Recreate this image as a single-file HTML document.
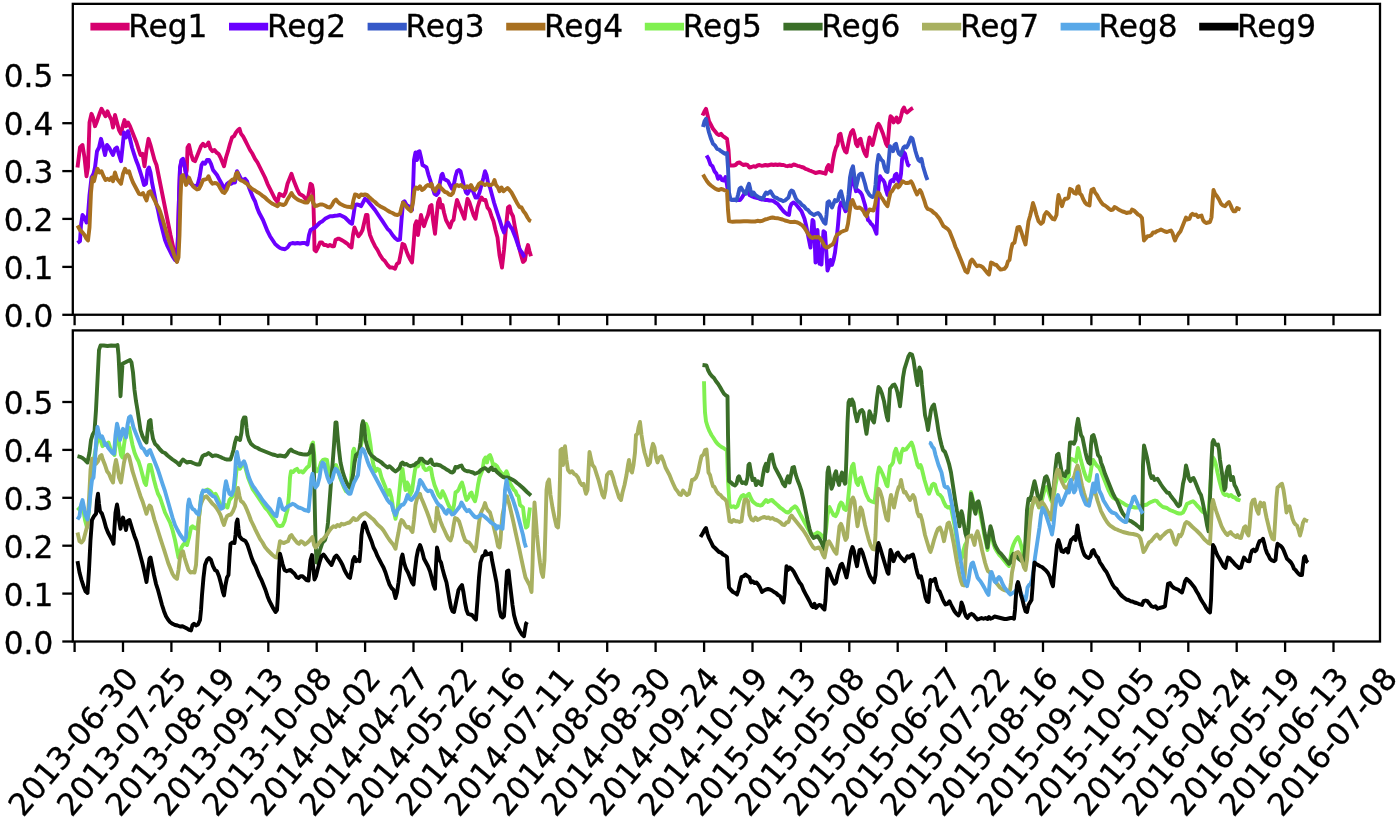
<!DOCTYPE html>
<html><head><meta charset="utf-8"><title>Reg chart</title>
<style>
html,body{margin:0;padding:0;background:#fff;overflow:hidden;}
svg{display:block;font-family:"DejaVu Sans","Liberation Sans",sans-serif;}
.ln{fill:none;stroke-width:3.9;stroke-linejoin:round;stroke-linecap:butt;}
.ax{fill:none;stroke:#000;stroke-width:2.3;}
.tk{stroke:#000;stroke-width:2.3;}
text{fill:#000;font-size:31.2px;stroke:#000;stroke-width:0.35px;}
</style></head><body>
<svg width="1400" height="821" viewBox="0 0 1400 821">
<rect width="1400" height="821" fill="#fff"/>
<polyline class="ln" stroke="#d6006e" points="77.5,167.5 80.0,147.5 82.5,145.0 84.5,157.5 86.5,176.2 88.0,167.5 89.5,122.5 91.5,113.8 93.0,117.5 95.0,126.2 97.0,121.2 99.5,113.8 101.5,108.8 103.5,112.5 105.5,116.2 107.5,111.2 109.5,116.2 111.5,120.0 113.0,127.5 115.0,115.0 117.0,122.5 119.0,130.0 121.0,133.8 123.0,125.0 124.5,120.0 126.0,126.2 128.0,122.5 130.0,126.2 132.5,132.5 134.5,137.5 136.5,142.5 138.5,148.8 140.5,155.0 142.5,153.8 144.5,166.2 146.5,150.0 148.5,138.8 150.5,145.0 152.5,152.5 154.5,160.0 156.5,165.0 158.5,175.0 160.5,185.0 163.0,197.5 165.5,210.0 168.0,222.5 170.5,235.0 173.0,246.2 175.0,255.0 177.0,261.2 178.0,235.0 179.0,197.5 180.0,168.8 181.5,161.2 183.0,160.0 184.5,165.5 186.0,174.2 186.8,170.0 187.5,147.5 189.0,145.0 191.0,153.8 193.0,160.0 195.0,161.2 197.0,156.2 199.0,151.2 201.0,146.2 203.0,143.8 205.0,146.2 207.0,145.0 208.5,142.5 210.5,148.8 212.5,151.2 214.5,150.0 216.5,152.5 218.5,153.8 220.5,157.5 222.5,162.5 224.0,166.2 226.0,157.5 228.0,151.2 230.0,143.8 232.0,137.5 234.0,136.2 236.0,132.5 238.0,130.0 239.5,128.8 241.0,133.8 243.0,136.2 245.0,140.0 247.5,145.0 250.0,150.0 252.5,153.8 255.0,158.8 257.5,162.5 260.0,167.5 262.5,172.5 265.0,177.5 267.5,183.8 270.0,188.8 272.5,193.8 275.0,198.8 277.5,202.0 279.5,193.8 281.5,195.0 283.5,196.2 285.5,192.5 287.5,183.8 289.5,178.8 291.5,173.8 293.5,180.0 295.5,185.0 297.5,190.0 299.5,193.8 301.5,195.0 303.5,196.2 305.5,198.8 307.5,200.0 309.0,192.5 310.5,183.8 312.0,185.0 313.0,190.0 314.0,222.5 314.5,250.0 316.0,251.2 318.0,247.5 320.0,242.5 322.0,242.5 324.0,245.0 326.0,245.0 328.0,246.2 330.0,245.0 332.0,246.2 334.0,246.2 335.5,240.0 337.5,238.8 339.5,238.8 341.5,240.0 343.5,241.2 345.5,242.5 347.5,243.8 349.5,246.2 351.5,247.5 353.0,235.0 354.5,227.5 356.5,232.5 358.5,236.2 360.5,233.8 362.5,230.0 364.5,221.2 366.0,215.0 367.5,215.0 368.5,227.5 370.0,235.0 372.5,241.2 375.0,246.2 377.5,250.0 380.0,255.0 382.5,258.8 385.0,261.2 387.5,265.0 390.0,267.5 392.5,267.5 395.0,268.8 397.0,263.8 399.0,262.5 401.0,252.5 402.5,243.8 404.5,245.0 406.5,251.2 408.5,256.2 410.5,260.0 412.0,262.5 413.5,245.0 415.0,225.0 416.5,221.2 418.0,235.0 419.5,225.0 421.0,215.0 422.5,221.2 424.0,226.2 426.0,220.0 428.0,215.0 430.0,206.2 431.5,205.0 433.0,220.0 435.0,233.8 436.5,217.5 438.0,202.5 439.5,198.8 441.0,207.5 442.5,205.0 444.0,212.5 446.0,220.0 448.0,223.8 450.0,227.5 452.0,221.2 453.5,220.0 455.0,210.0 457.0,200.0 459.0,205.0 461.0,210.0 463.0,215.0 464.5,218.8 466.0,207.5 467.5,198.8 469.5,202.5 471.5,208.8 473.5,215.0 475.5,218.8 477.5,207.5 479.5,201.2 481.5,197.5 483.5,200.0 485.5,200.0 487.5,207.5 489.5,210.0 491.5,216.2 493.5,221.2 495.5,230.0 497.5,237.5 499.5,255.0 502.0,267.5 504.0,250.0 506.0,227.5 508.0,207.5 509.5,206.2 511.0,212.5 513.0,216.2 515.0,227.5 517.0,237.5 519.0,247.5 521.0,255.0 523.0,262.0 525.0,260.0 526.5,250.0 528.0,245.0 529.5,251.2 531.0,256.2"/>
<polyline class="ln" stroke="#6a00ff" points="77.5,243.0 80.0,241.2 81.0,225.0 82.5,215.0 84.5,217.5 86.5,222.5 88.0,215.0 89.5,195.0 91.5,177.5 93.5,173.8 95.0,167.5 97.0,151.2 99.0,147.5 101.0,138.8 103.0,146.2 105.0,155.0 107.0,145.0 109.0,147.5 111.0,151.2 113.0,155.0 115.0,148.8 117.0,147.5 119.0,155.0 121.0,161.2 122.5,147.5 124.0,132.5 126.0,137.5 128.0,131.2 130.0,138.8 132.0,147.5 134.0,153.8 136.0,160.0 138.0,165.0 140.0,171.2 142.0,177.5 144.0,185.0 146.0,183.8 147.5,170.0 149.0,167.5 150.5,172.5 152.0,182.5 154.0,192.5 156.0,202.5 158.0,210.0 160.0,220.0 162.5,230.0 165.0,240.0 167.5,246.2 170.0,251.2 172.5,256.2 175.0,260.0 177.0,261.2 178.0,235.0 179.0,197.5 180.0,167.5 181.5,160.0 183.0,158.8 184.5,165.0 186.0,173.8 188.0,180.0 190.0,182.5 192.5,185.0 195.0,186.2 197.5,185.0 199.5,177.5 201.5,165.0 203.0,162.5 205.0,163.8 207.0,160.0 209.0,160.0 211.0,163.8 213.0,170.0 215.0,172.5 217.0,175.0 219.0,178.8 221.0,182.5 223.0,186.2 225.0,188.8 227.0,183.8 229.0,182.5 231.0,183.8 233.0,182.5 235.0,182.5 237.0,171.2 239.0,175.0 241.0,178.8 243.0,180.0 245.0,178.8 247.0,181.2 249.0,187.5 251.0,192.5 253.0,197.5 255.0,201.2 257.0,207.5 259.0,212.5 261.0,216.2 263.0,220.0 265.0,225.0 267.5,231.2 270.0,236.2 272.5,240.0 275.0,243.8 277.5,246.2 280.0,248.0 282.5,248.8 285.0,249.2 287.5,247.5 290.0,243.8 292.5,243.0 295.0,243.5 297.5,243.0 300.0,243.5 302.5,243.0 305.0,243.0 307.5,244.5 309.0,235.0 310.5,230.0 312.5,228.8 315.0,227.5 317.5,225.0 320.0,222.5 322.5,221.2 325.0,218.8 327.5,217.5 330.0,216.2 332.5,216.2 335.0,215.8 337.5,215.5 340.0,215.0 342.5,216.2 345.0,217.5 347.5,220.0 350.0,222.5 352.0,223.8 353.5,215.0 355.0,205.0 357.0,204.5 359.0,205.0 361.0,206.2 363.0,202.5 365.0,198.8 367.0,200.0 369.0,202.5 371.0,205.0 373.0,207.5 375.0,210.0 377.5,213.8 380.0,217.5 382.5,221.2 385.0,225.0 387.5,228.8 390.0,231.2 392.5,235.0 395.0,238.0 397.5,240.0 400.0,239.5 401.5,220.0 403.0,202.5 404.5,201.2 406.5,205.0 408.5,206.2 410.5,207.5 412.0,210.0 413.0,190.0 414.0,160.0 415.5,152.5 417.0,160.0 418.0,152.0 419.5,151.2 421.0,157.5 422.5,165.0 424.5,166.2 426.5,167.5 428.5,175.0 430.5,181.2 432.5,187.5 434.5,193.8 436.5,195.0 438.5,192.5 440.0,182.5 441.5,175.0 442.5,173.8 444.0,178.8 446.0,180.0 448.0,181.2 450.0,185.0 452.0,188.8 454.0,183.8 455.5,176.2 457.0,171.2 459.0,170.0 460.5,171.2 462.0,177.5 464.0,186.2 466.0,192.5 467.5,193.8 469.5,190.0 471.5,187.5 473.5,192.5 475.5,197.5 477.5,197.5 479.5,192.5 481.5,185.0 483.5,177.5 485.0,171.2 486.5,175.0 488.0,182.5 490.0,187.5 492.0,195.0 494.0,202.5 496.0,208.8 498.0,215.0 500.0,221.2 502.0,227.5 504.0,232.5 506.0,226.2 508.0,222.5 510.0,226.2 512.0,228.8 514.0,233.8 516.0,238.8 518.0,245.0 520.0,250.0 522.0,252.5 524.0,256.2 525.0,257.0"/>
<polyline class="ln" stroke="#d6006e" points="702.5,115.5 704.5,111.2 706.0,108.8 707.5,115.0 709.0,121.2 711.0,125.0 713.0,128.8 715.0,131.2 717.0,133.8 719.0,135.0 721.0,133.8 723.0,136.2 725.0,137.5 727.0,138.8 728.5,150.0 729.5,165.5 731.5,165.5 733.5,165.5 735.5,165.0 737.5,163.0 739.5,162.5 741.5,163.8 743.5,165.0 745.5,164.5 747.5,165.0 749.5,167.5 751.5,167.0 753.5,166.2 755.5,166.8 757.5,165.5 759.5,165.0 761.5,165.8 763.5,165.5 765.5,165.0 767.5,165.5 769.5,165.0 771.5,164.5 773.5,165.0 775.5,164.5 777.5,165.0 779.5,164.5 781.5,165.0 783.5,165.0 785.5,165.8 787.5,166.2 789.5,165.5 791.5,166.0 793.5,164.5 795.5,165.0 797.5,165.8 799.5,166.2 801.5,167.0 803.5,167.5 805.5,168.8 807.5,169.5 809.5,170.5 811.5,171.2 813.5,172.0 815.5,173.0 817.5,172.5 819.5,172.0 821.5,172.5 823.5,173.0 825.5,173.8 827.0,167.5 828.5,165.0 830.0,170.0 831.5,171.2 833.0,160.0 834.5,152.5 836.0,147.5 837.5,145.0 839.0,135.0 840.5,133.8 842.0,141.2 843.5,147.5 845.0,151.2 846.5,152.5 848.0,145.0 849.5,137.5 851.0,132.5 853.0,130.0 854.5,135.0 856.0,143.8 857.5,146.2 859.0,140.0 860.5,138.8 862.0,145.0 863.5,150.0 865.0,153.8 866.5,156.2 868.0,145.0 869.5,137.5 871.0,141.2 872.5,145.0 874.0,138.8 875.5,132.5 877.0,126.2 878.5,123.8 880.0,126.2 881.5,130.0 883.0,133.8 884.5,138.8 886.0,143.8 887.5,146.2 888.5,135.0 889.5,122.5 890.5,116.2 892.0,117.5 893.5,122.5 895.0,120.0 896.5,117.5 898.0,122.5 899.5,121.2 901.0,116.2 902.5,110.0 904.0,107.5 905.5,111.2 907.0,112.5 908.5,111.2 910.0,110.0 911.5,108.8 913.0,108.0"/>
<polyline class="ln" stroke="#6a00ff" points="706.5,155.5 708.5,158.8 710.5,164.5 712.5,166.2 714.5,171.2 716.5,173.8 718.0,178.8 720.0,176.2 722.0,180.0 724.0,180.5 725.5,177.0 727.0,185.0 728.5,195.0 730.0,198.8 732.5,200.0 735.0,200.0 737.5,200.0 740.0,200.0 742.0,197.5 743.5,195.0 745.5,192.5 747.5,191.2 749.5,195.0 751.5,196.2 753.5,197.0 755.5,197.5 757.5,198.0 759.5,198.8 761.5,199.5 763.5,199.5 765.5,200.0 767.5,200.0 769.5,200.5 771.5,200.5 773.5,201.2 775.5,202.5 777.5,203.8 779.5,206.2 781.5,208.8 783.5,211.2 785.5,213.0 787.5,214.5 789.0,215.0 790.0,207.5 791.5,203.8 793.5,202.5 795.5,203.8 797.5,206.2 799.5,208.8 801.5,211.2 803.0,215.0 804.5,218.8 806.0,225.0 807.5,232.5 809.0,240.0 810.5,247.5 811.5,232.5 812.5,220.0 813.5,221.2 814.5,235.0 815.5,262.5 816.5,247.5 817.5,230.0 818.5,250.0 819.5,263.8 820.5,260.0 821.5,264.5 822.5,245.0 823.5,231.2 825.0,232.5 826.5,255.0 827.5,270.5 829.0,266.2 830.5,260.0 832.0,265.0 833.5,260.0 835.0,252.5 836.5,240.0 838.0,225.0 839.5,207.5 841.0,202.5 842.5,203.8 844.0,207.5 845.5,211.2 847.0,210.0 848.5,202.5 850.0,190.0 851.5,180.0 853.0,177.5 854.5,185.0 856.0,191.2 857.5,190.0 859.0,191.2 860.5,192.5 862.0,195.0 863.5,200.0 865.0,205.0 866.5,212.5 868.0,220.0 869.5,221.2 871.0,223.8 872.5,225.0 874.0,227.5 875.5,231.2 876.5,233.8 877.5,210.0 878.5,185.0 880.0,176.2 881.5,178.8 883.0,180.0 884.5,182.5 886.0,190.0 887.5,195.0 889.0,187.5 890.5,181.2 892.0,180.0 893.5,181.2 895.0,175.0 896.5,173.8 898.0,180.0 899.5,182.5 901.0,173.8 902.0,160.0 903.5,152.0 905.0,153.8 906.5,160.0 908.0,165.0 910.0,166.2"/>
<polyline class="ln" stroke="#3558c8" points="703.0,127.0 704.5,121.2 706.0,118.8 707.5,126.2 709.0,132.5 711.0,138.8 713.0,143.8 715.0,145.5 717.0,148.8 719.0,149.5 721.0,151.2 723.0,152.5 725.0,153.8 727.0,153.0 728.0,167.5 729.0,192.5 730.5,199.5 732.5,200.0 734.5,199.5 736.5,200.5 738.0,195.0 739.5,188.8 741.0,187.5 742.5,190.0 744.5,192.5 746.0,193.8 747.5,187.5 749.0,183.8 750.5,190.0 752.0,195.0 753.5,192.5 755.0,194.5 757.0,196.2 759.0,197.5 761.0,198.0 763.0,198.8 764.5,195.0 766.0,192.5 767.5,193.8 769.0,192.5 770.5,191.2 772.0,193.8 773.5,196.2 775.0,197.5 777.0,198.0 779.0,199.5 781.0,200.0 783.0,201.2 785.0,200.5 787.0,198.8 788.5,197.5 790.0,192.5 791.5,190.5 793.0,191.2 794.5,195.0 796.0,198.8 798.0,201.2 800.0,202.5 802.0,205.0 804.0,206.2 806.0,208.8 808.0,210.0 810.0,212.5 812.0,213.8 814.0,215.0 816.0,213.8 818.0,213.0 820.0,215.0 822.0,218.8 824.0,222.5 825.5,223.8 826.5,215.0 827.5,202.5 829.0,201.2 830.5,205.0 832.0,207.5 833.5,203.8 835.0,200.0 836.5,201.2 838.0,200.0 839.5,193.8 841.0,191.2 842.5,197.5 844.0,203.8 845.5,207.5 847.0,208.8 848.5,195.0 850.0,177.5 851.5,170.0 853.0,166.2 854.5,177.5 856.0,187.5 857.5,181.2 859.0,175.0 860.5,173.8 862.0,173.8 863.5,178.8 865.0,183.8 866.5,190.0 868.0,192.5 869.5,195.0 871.0,196.2 872.5,197.0 874.0,196.2 875.5,185.0 877.0,165.0 878.5,155.0 880.0,157.5 881.5,160.0 883.0,161.2 884.5,167.5 886.0,171.2 887.5,172.0 889.0,157.5 890.0,146.2 891.5,148.8 893.0,151.2 894.5,145.0 896.0,143.8 897.5,150.0 899.0,153.8 900.5,155.0 902.0,151.2 903.5,147.5 905.0,146.2 906.5,147.5 908.0,145.0 909.5,141.2 911.0,137.5 912.5,138.8 914.0,145.0 915.5,151.2 917.0,156.2 918.5,160.0 920.0,161.2 921.5,158.8 923.0,166.2 924.5,171.2 926.0,176.2 927.5,180.0"/>
<polyline class="ln" stroke="#a87020" points="77.5,225.5 80.0,230.0 82.5,232.5 84.5,235.0 86.5,238.8 88.0,240.5 89.5,227.5 91.0,192.5 92.5,177.5 94.0,181.2 95.5,175.0 97.5,168.8 99.5,172.5 101.5,171.2 103.5,176.2 105.5,180.0 107.5,178.8 109.5,180.0 111.5,177.5 113.0,181.2 115.0,172.5 117.0,178.8 119.0,181.2 121.0,183.8 123.0,173.8 125.0,168.8 127.0,172.5 129.0,171.2 131.0,177.5 133.0,182.5 135.0,186.2 137.0,190.0 139.0,193.8 141.0,194.5 143.0,193.0 144.5,196.2 146.5,200.5 148.5,192.5 150.5,191.2 152.5,196.2 154.5,200.0 156.5,204.5 158.5,207.5 160.5,212.5 162.5,218.8 165.0,227.5 167.5,236.2 170.0,243.8 172.5,250.0 175.0,257.5 177.0,262.0 178.5,257.5 179.5,235.0 180.5,197.5 181.5,176.2 183.0,175.0 184.5,180.0 186.0,185.0 187.5,182.5 189.0,177.5 191.0,182.5 193.0,186.2 195.0,188.0 197.0,189.5 199.0,188.8 201.0,185.0 203.0,180.0 205.0,179.5 207.0,178.8 208.5,176.2 210.5,181.2 212.5,183.8 214.5,183.0 216.5,183.2 218.5,185.0 220.5,188.8 222.5,192.0 224.5,193.0 226.5,190.0 228.5,185.0 230.5,181.2 232.5,179.5 234.5,180.0 236.0,173.8 237.5,172.5 239.0,178.8 241.0,180.5 243.0,181.2 245.0,182.5 247.0,183.8 249.0,186.2 251.0,188.0 253.0,189.5 255.0,190.5 257.0,192.0 259.0,193.0 261.0,194.5 263.0,196.2 265.0,197.5 267.5,200.0 270.0,202.0 272.5,203.8 275.0,205.0 277.5,206.2 279.5,203.8 281.5,204.5 283.5,205.0 285.5,203.8 287.5,199.5 289.5,196.2 291.5,193.0 293.5,196.2 295.5,198.0 297.5,199.5 299.5,200.5 301.5,201.2 303.5,202.0 305.5,202.5 307.5,202.5 309.5,198.8 311.5,196.2 313.0,202.5 315.0,206.2 317.5,205.5 320.0,204.5 322.5,204.5 325.0,205.5 327.5,207.0 330.0,207.5 332.0,205.0 334.0,201.2 336.0,199.5 338.0,202.0 340.0,203.8 342.5,205.0 345.0,206.2 347.5,206.8 350.0,207.0 352.0,207.5 353.5,200.0 355.0,194.5 357.0,195.0 359.0,197.0 361.0,194.5 363.0,195.0 365.0,194.5 367.0,195.0 369.0,197.0 371.0,198.8 373.0,200.5 375.0,202.0 377.5,204.5 380.0,206.2 382.5,207.5 385.0,208.8 387.5,210.5 390.0,212.0 392.5,213.0 395.0,214.5 397.5,215.0 400.0,213.8 401.5,207.5 403.0,202.5 405.0,205.0 407.0,207.5 409.0,209.5 411.0,211.2 413.0,202.5 414.5,190.0 416.0,187.5 418.0,188.8 420.0,186.2 422.0,190.0 424.0,188.8 426.0,186.2 428.0,185.0 430.0,186.2 431.5,183.8 433.0,188.8 435.0,191.2 437.0,187.5 439.0,185.0 441.0,188.0 443.0,190.0 445.0,192.0 447.0,192.5 449.0,194.5 451.0,195.0 453.0,193.0 455.0,186.2 457.0,185.0 459.0,186.2 461.0,185.0 463.0,187.0 465.0,188.0 467.0,186.2 469.0,187.5 471.0,185.0 473.0,188.8 475.0,190.0 477.0,187.5 479.0,183.8 481.0,182.5 483.0,183.8 485.0,185.0 487.0,183.8 489.0,185.0 491.0,185.0 493.0,183.8 494.5,180.0 496.0,185.0 498.0,187.5 499.5,191.2 501.5,187.5 503.5,191.2 505.5,189.5 507.5,188.0 509.5,190.0 511.5,192.5 513.5,196.2 515.5,200.0 517.5,203.8 519.5,207.0 521.5,207.5 523.5,211.2 525.5,213.8 527.5,217.5 529.5,220.5 531.0,221.2"/>
<polyline class="ln" stroke="#a87020" points="703.0,174.5 705.0,178.0 707.0,181.2 709.0,183.8 711.0,185.5 713.0,187.0 715.0,188.5 717.0,189.5 719.0,190.0 721.0,189.0 723.0,189.5 725.0,190.5 727.0,191.2 728.0,210.0 729.0,221.2 732.5,221.8 736.2,221.5 740.0,221.5 743.8,221.2 747.5,221.2 751.2,221.5 755.0,221.5 757.5,220.8 760.0,221.2 762.5,220.8 765.0,219.5 767.5,218.8 770.0,218.0 772.5,217.5 775.0,218.0 777.5,218.2 780.0,218.8 782.5,219.5 785.0,220.5 787.5,221.2 790.0,222.0 792.5,222.0 795.0,221.8 797.5,222.5 800.0,223.8 802.5,225.5 804.5,228.0 806.5,231.2 808.5,234.5 810.5,237.0 812.5,238.0 814.5,237.0 816.5,237.5 818.5,237.0 820.5,238.8 822.5,242.0 824.5,246.2 826.5,247.5 828.5,247.0 830.5,245.5 832.5,244.5 834.0,242.0 835.5,237.5 837.0,234.5 839.0,233.8 841.0,232.0 843.0,231.2 845.0,230.5 846.5,230.0 848.0,223.8 849.5,212.5 851.0,202.5 852.5,200.0 854.0,203.8 855.5,207.5 857.5,208.0 859.5,207.5 861.5,208.8 863.5,211.2 865.0,214.5 866.5,216.2 868.0,212.0 869.5,209.5 871.5,210.0 873.5,210.5 875.0,205.0 876.5,196.2 878.0,192.5 879.5,193.8 881.0,197.0 882.5,198.8 884.0,201.2 885.5,203.8 887.5,206.2 889.0,198.8 890.5,192.5 892.0,191.2 893.5,188.8 895.0,186.2 896.5,184.5 898.0,187.5 899.5,186.2 901.0,183.8 902.5,181.2 904.0,182.0 905.5,183.0 907.5,183.0 909.5,182.5 911.0,181.2 912.5,183.8 914.0,187.5 915.5,191.2 917.0,194.5 918.5,192.0 920.0,190.0 921.5,192.5 923.0,197.0 924.5,201.2 926.0,206.2 927.5,208.8 929.5,209.5 931.5,210.5 933.5,212.5 935.5,213.8 937.5,216.2 939.5,218.8 941.5,222.5 943.5,226.2 945.5,227.5 947.5,228.8 949.5,231.2 951.5,236.2 953.5,241.2 955.5,247.0 957.5,251.2 959.5,256.2 961.5,261.2 963.5,266.2 965.5,271.2 967.5,272.5 969.0,267.5 970.5,261.2 972.0,259.5 973.5,261.2 975.0,263.8 977.0,266.2 979.0,265.5 981.0,266.2 983.0,267.5 985.0,270.0 987.0,272.5 989.0,274.5 990.0,268.8 991.0,262.5 992.5,263.0 994.5,264.5 996.5,265.0 998.5,267.5 1000.5,269.5 1002.5,269.2 1004.5,268.8 1006.5,266.2 1008.0,261.2 1009.5,260.0 1011.0,250.0 1012.5,243.8 1014.5,242.5 1016.0,235.0 1017.5,227.5 1019.5,227.0 1021.5,232.5 1023.5,238.8 1025.5,244.5 1027.0,232.5 1028.5,221.2 1030.0,216.2 1031.5,210.0 1033.0,203.0 1034.5,207.5 1036.5,215.0 1038.5,221.2 1041.0,223.8 1043.0,222.0 1044.5,215.0 1046.5,212.0 1048.5,213.8 1050.5,216.2 1052.5,218.8 1054.5,219.5 1056.5,215.0 1057.5,202.5 1058.5,195.0 1060.0,200.0 1062.0,206.2 1063.5,201.2 1065.0,198.8 1067.0,198.8 1068.5,197.5 1070.0,188.8 1072.0,190.0 1074.0,193.0 1076.0,193.8 1077.5,187.0 1078.5,186.2 1080.0,193.8 1081.5,195.0 1083.0,198.8 1085.0,202.5 1087.0,204.5 1089.5,205.5 1090.5,195.0 1091.5,190.0 1093.5,188.8 1095.0,192.5 1097.0,195.0 1099.0,198.8 1101.0,202.0 1103.0,204.5 1105.0,205.5 1107.0,207.0 1109.0,208.8 1111.0,210.0 1113.0,209.5 1114.5,207.0 1116.5,208.0 1118.5,209.5 1120.5,210.5 1122.5,211.5 1124.5,212.0 1126.5,213.0 1128.5,212.5 1130.5,212.5 1132.0,209.5 1134.0,210.5 1136.0,212.5 1138.0,214.5 1140.0,215.5 1142.0,218.0 1143.0,230.0 1144.0,240.5 1145.5,238.8 1147.5,236.2 1149.5,236.0 1151.5,235.0 1153.0,232.5 1155.0,232.5 1157.0,231.2 1159.0,230.5 1161.0,229.5 1163.0,230.5 1165.0,231.5 1167.0,232.0 1169.0,231.2 1171.0,230.5 1172.5,233.0 1174.0,238.0 1175.0,240.5 1176.5,237.0 1178.5,233.8 1180.5,231.2 1182.5,226.2 1184.5,221.2 1186.0,217.5 1187.5,219.5 1189.5,218.8 1191.0,215.0 1192.5,213.8 1194.5,215.0 1196.0,214.5 1198.0,217.0 1199.5,216.2 1201.5,215.5 1203.0,220.0 1204.5,222.0 1206.0,223.0 1208.0,222.5 1210.0,222.0 1211.5,217.5 1212.5,202.5 1213.5,190.0 1215.0,193.8 1217.0,196.2 1219.0,199.5 1221.0,203.8 1223.0,205.5 1225.0,206.2 1227.0,203.8 1229.0,202.0 1230.5,205.0 1232.0,208.8 1233.5,211.2 1235.5,211.2 1237.0,208.0 1238.5,208.8 1240.5,209.5"/>
<polyline class="ln" stroke="#80f050" points="77.5,507.5 80.0,510.0 82.5,505.0 85.0,520.0 87.0,527.5 89.0,510.0 91.0,482.5 93.0,465.0 95.0,452.5 97.0,442.5 99.0,435.0 100.5,440.0 102.5,446.2 104.5,442.5 106.5,445.0 108.5,442.5 110.5,448.8 112.5,452.5 114.5,455.0 116.0,440.0 117.5,435.0 119.0,442.5 121.0,455.0 122.5,457.5 124.0,445.0 125.5,435.0 127.5,431.2 129.0,427.5 130.5,435.0 132.5,445.0 134.5,452.5 136.5,457.5 138.5,461.2 140.5,467.5 142.5,475.0 144.5,482.5 146.0,485.0 147.5,475.0 149.0,465.0 150.5,465.0 152.0,471.2 154.0,480.0 156.0,487.5 158.0,493.8 160.0,497.5 162.5,505.0 165.0,512.5 167.5,517.5 170.0,522.5 172.5,530.0 175.0,540.0 177.0,550.0 178.5,557.5 180.0,552.5 181.5,547.5 183.0,545.0 185.0,543.0 187.0,545.0 189.0,537.5 191.0,527.5 192.5,526.2 194.5,528.0 196.5,528.8 198.0,525.0 199.5,512.5 201.0,497.5 202.5,492.0 205.0,490.5 207.5,489.5 209.5,490.5 211.5,492.5 213.5,495.5 215.5,493.8 217.5,497.5 219.5,502.5 221.5,506.2 223.5,507.5 225.5,505.0 227.5,507.5 229.5,500.0 231.5,497.5 233.5,495.0 235.0,485.0 236.5,470.0 238.0,467.5 240.0,468.8 242.0,465.0 244.0,462.5 246.0,470.0 248.0,477.5 250.0,482.5 252.5,488.8 255.0,492.5 257.5,496.2 260.0,500.0 262.5,503.8 265.0,507.5 267.5,510.0 270.0,513.8 272.5,517.5 275.0,521.2 277.5,525.5 280.0,526.2 282.5,525.5 284.5,521.2 286.0,515.0 287.5,510.0 289.0,495.0 290.0,477.5 291.0,471.2 293.0,472.0 295.0,470.0 297.0,468.8 299.0,472.0 301.0,471.2 303.0,472.5 305.0,470.0 307.0,467.5 309.0,466.2 310.5,457.5 311.5,445.0 313.0,442.5 314.0,452.5 315.0,467.5 317.0,471.2 319.0,468.8 321.0,462.5 323.0,460.0 325.0,459.5 327.0,460.0 328.5,470.0 330.0,475.0 332.0,473.8 334.0,467.5 336.0,465.0 338.0,470.0 340.0,477.5 342.0,482.5 344.0,487.5 346.0,491.2 348.0,492.5 350.0,491.2 351.5,475.0 353.0,451.2 354.0,448.8 355.5,455.0 357.0,456.2 359.0,455.0 361.0,445.0 363.0,435.0 364.5,427.5 366.0,423.8 367.5,427.5 369.0,435.0 370.5,445.0 372.0,457.5 373.5,465.0 375.5,471.2 377.5,468.8 379.5,470.0 381.5,477.5 383.5,482.5 385.5,487.5 387.5,495.0 389.5,490.0 391.5,497.5 393.5,510.0 395.5,518.8 397.5,510.0 399.5,490.0 401.0,475.0 402.5,468.8 404.0,480.0 405.5,490.0 407.0,482.5 408.5,485.0 410.0,495.0 412.0,491.2 413.5,480.0 415.0,470.0 416.5,465.0 418.0,466.2 420.0,462.5 422.0,460.0 423.5,467.5 425.5,470.0 427.5,469.5 429.5,467.5 431.0,468.8 432.5,477.5 434.5,485.0 436.5,490.0 438.5,495.0 440.5,497.5 442.5,491.2 444.5,495.0 446.5,500.0 448.5,505.0 450.5,508.8 452.5,511.2 454.0,505.0 455.5,492.5 457.5,491.2 459.0,488.8 460.5,485.0 462.0,482.5 463.5,487.5 465.0,495.0 466.5,500.0 468.5,497.5 470.0,493.8 471.5,492.5 473.0,497.5 475.0,501.2 476.5,495.0 478.0,485.0 479.5,477.5 481.0,473.8 482.5,470.0 484.0,460.0 485.5,457.5 487.0,462.5 488.5,456.2 490.0,455.0 491.5,458.8 493.0,465.0 495.0,464.5 497.0,466.2 499.0,470.0 501.0,472.5 503.0,475.0 505.0,473.8 506.5,471.2 508.0,475.0 509.5,482.5 511.0,485.0 512.5,487.5 514.0,490.0 515.5,491.2 517.0,495.0 518.5,496.2 520.0,505.0 521.5,506.2 523.0,507.5 524.5,520.0 526.0,527.5 527.5,526.2 529.0,515.0 530.0,507.5"/>
<polyline class="ln" stroke="#80f050" points="704.0,381.2 704.5,400.0 705.0,412.5 706.0,421.2 707.5,426.2 709.5,431.2 711.5,435.0 713.5,438.0 715.5,441.2 717.5,443.8 719.5,445.5 721.5,447.0 723.5,448.0 725.5,449.5 727.0,450.0 728.0,480.0 729.5,505.0 731.5,507.0 733.5,506.2 735.5,507.5 737.5,506.2 739.5,500.0 741.5,496.2 743.5,495.0 745.5,497.5 747.5,495.0 749.0,493.8 750.5,497.5 752.5,501.2 754.5,503.0 756.5,504.5 758.5,505.0 760.0,505.5 762.0,505.0 764.0,502.5 766.0,500.0 768.0,502.0 770.0,500.5 772.0,500.0 774.0,502.0 776.0,503.8 778.0,505.5 780.0,507.5 782.0,508.8 784.0,510.5 786.0,512.0 788.0,512.5 790.0,511.2 791.5,508.8 793.5,507.5 795.0,506.2 796.5,507.5 798.0,510.0 800.0,513.8 802.0,517.5 804.0,521.2 806.0,525.0 808.0,528.8 810.0,532.5 812.5,535.0 815.5,533.8 817.5,532.5 820.0,533.8 822.5,536.2 824.5,538.8 826.0,530.0 827.5,515.0 829.5,507.0 831.5,511.2 833.5,515.0 835.5,516.2 837.5,512.5 839.5,505.0 841.0,502.5 842.5,503.8 844.0,508.8 846.0,510.0 847.5,505.0 849.0,490.0 850.5,475.0 852.0,466.2 853.5,463.8 855.0,475.0 856.5,482.5 858.0,485.0 859.5,478.8 861.0,477.5 862.5,482.5 864.0,487.5 865.5,492.5 867.0,496.2 869.0,500.0 871.0,501.2 873.0,502.0 874.5,502.5 876.0,490.0 877.5,475.0 879.0,467.5 880.5,469.5 882.5,473.8 884.5,478.8 886.5,485.0 887.5,486.2 888.5,477.5 890.0,466.2 891.5,465.0 893.0,462.5 894.5,452.5 896.0,448.8 897.5,453.8 899.0,460.0 900.0,462.5 901.5,452.5 903.0,448.8 904.5,450.0 906.0,449.5 907.5,447.5 909.5,445.0 911.5,442.5 913.0,446.2 914.5,452.5 916.0,458.8 917.5,465.0 919.0,467.5 920.5,465.0 921.5,467.5 923.0,473.8 924.5,480.0 926.0,485.0 927.5,490.0 929.0,493.8 930.5,490.0 932.0,485.0 933.5,483.8 935.0,484.5 936.5,490.0 938.0,493.8 940.0,495.0 942.0,497.5 944.0,502.5 946.0,506.2 948.0,507.5 950.0,507.0 951.5,510.0 953.0,517.5 954.5,525.0 956.0,535.0 957.5,545.0 959.0,555.0 960.5,560.0 962.0,557.5 963.5,550.0 965.0,545.0 966.5,542.5 968.0,532.5 969.5,512.5 971.0,492.0 972.5,498.0 974.0,507.5 975.5,512.5 977.0,505.5 978.5,504.5 980.0,512.5 981.5,520.0 983.0,527.5 984.5,536.2 986.0,542.5 987.5,550.0 989.0,540.0 990.5,532.5 992.0,536.2 993.5,543.8 995.0,548.0 997.0,551.5 999.0,554.5 1001.0,556.5 1003.0,559.0 1005.0,561.5 1007.0,564.0 1009.0,566.0 1010.5,557.5 1012.0,548.8 1013.5,544.5 1015.0,541.2 1016.5,538.8 1018.0,537.0 1019.5,540.0 1021.0,545.0 1022.5,551.2 1024.0,557.5 1025.0,550.0 1026.5,535.0 1028.0,520.0 1029.5,512.5 1031.5,507.5 1033.0,502.5 1034.5,498.8 1036.0,500.0 1037.5,503.8 1039.0,507.5 1040.5,505.5 1042.0,500.0 1043.5,493.8 1045.0,488.8 1046.5,487.0 1048.0,490.0 1049.5,495.0 1051.0,500.0 1052.5,502.5 1054.0,495.0 1055.5,485.0 1057.0,477.5 1058.5,472.5 1060.0,473.8 1061.5,477.5 1063.0,480.0 1065.0,481.2 1066.5,478.8 1068.0,477.5 1069.0,475.0 1069.8,458.8 1071.2,458.8 1073.8,460.0 1076.0,461.8 1077.0,455.0 1078.0,448.0 1079.5,453.8 1080.8,459.8 1082.5,466.2 1084.5,473.2 1086.8,479.2 1089.0,480.8 1090.2,475.0 1091.5,466.5 1093.2,460.0 1095.0,463.0 1097.0,465.8 1099.0,467.5 1100.0,469.5 1101.0,471.2 1103.0,476.2 1105.0,481.2 1107.0,486.2 1109.0,491.2 1111.0,495.0 1113.0,497.5 1115.0,498.8 1117.0,499.5 1119.0,500.5 1121.0,502.0 1123.0,503.0 1125.0,504.5 1127.0,505.5 1129.0,506.2 1131.0,507.0 1133.0,507.0 1135.0,507.5 1137.0,507.5 1139.0,507.0 1141.0,506.2 1143.0,505.5 1145.0,505.0 1147.0,504.5 1149.0,503.0 1151.0,502.0 1153.0,501.2 1155.0,500.5 1157.0,501.2 1159.0,503.8 1161.0,505.5 1163.0,507.0 1165.0,507.5 1167.0,508.0 1169.0,509.5 1171.0,510.5 1173.0,511.2 1175.0,512.0 1177.0,513.0 1179.0,513.5 1181.0,513.5 1183.0,512.5 1185.0,508.8 1187.0,503.8 1189.0,503.0 1191.0,502.0 1193.0,501.2 1195.0,503.0 1197.0,505.5 1199.0,507.5 1201.0,510.0 1203.0,512.0 1205.0,513.0 1207.0,514.0 1208.5,513.0 1209.5,500.0 1210.5,485.0 1211.5,470.0 1213.0,457.5 1214.5,460.0 1216.0,465.0 1217.5,472.5 1219.5,481.2 1221.5,488.8 1223.5,493.8 1225.0,495.0 1227.0,494.5 1229.0,496.2 1231.0,495.0 1233.0,497.0 1235.0,497.5 1237.0,499.5 1239.0,500.0 1240.5,500.5"/>
<polyline class="ln" stroke="#3a6e28" points="77.5,456.2 80.0,456.8 82.5,458.0 85.0,460.0 87.5,462.5 89.5,452.5 91.0,440.0 92.5,435.0 94.5,431.2 96.0,410.0 97.5,380.0 99.0,350.0 100.5,345.5 103.8,345.5 107.5,346.0 111.2,345.5 115.0,345.8 117.5,345.0 118.5,355.0 119.5,375.0 120.5,396.2 121.5,380.0 122.5,363.8 125.0,362.5 127.5,361.2 130.0,360.0 131.5,362.5 133.0,372.5 134.5,390.0 136.0,401.2 137.5,410.0 139.0,420.0 140.5,430.0 142.5,436.2 144.5,440.0 146.5,442.5 147.5,432.5 149.0,421.2 150.5,420.0 151.5,430.0 153.0,438.8 155.0,443.8 157.5,446.2 160.0,449.5 162.5,452.0 165.0,453.0 167.5,455.5 170.0,457.5 172.5,459.5 175.0,461.2 177.5,463.0 179.5,465.0 181.5,461.2 183.0,459.5 185.0,461.2 187.0,462.5 189.0,462.0 191.0,462.0 193.0,463.0 195.0,463.8 197.5,464.5 199.5,464.5 201.0,460.0 202.5,456.2 204.5,455.0 206.5,454.5 208.5,453.0 210.5,454.5 212.5,456.2 214.5,455.5 216.5,455.5 218.5,456.2 220.5,457.0 222.5,458.0 224.5,458.8 226.5,459.5 228.5,459.5 230.5,459.5 232.0,455.0 233.5,450.0 235.0,442.5 236.5,437.5 238.0,438.8 240.0,440.0 241.5,432.5 242.5,421.2 244.0,417.5 245.5,417.5 246.5,427.5 247.5,435.0 249.0,440.0 251.0,443.8 253.0,445.5 255.0,447.0 257.5,448.0 260.0,449.5 262.5,450.5 265.0,451.5 267.5,452.5 270.0,453.5 272.5,454.5 275.0,455.0 277.5,456.0 280.0,455.5 282.5,456.0 285.0,456.5 287.0,454.5 289.0,451.2 291.0,449.5 293.0,451.2 295.0,452.0 297.5,453.0 300.0,453.8 302.5,454.2 305.0,454.5 307.5,454.5 309.5,453.0 311.0,448.8 312.5,445.0 313.5,455.0 314.5,495.0 315.5,540.0 316.5,562.5 318.0,557.5 320.0,550.0 322.5,542.5 325.0,540.0 326.5,535.0 328.0,522.5 329.5,502.5 331.0,482.5 332.5,465.0 334.0,445.0 335.5,422.5 336.5,422.5 337.5,435.0 339.0,450.0 340.5,462.5 342.5,471.2 344.5,477.5 346.5,482.5 348.5,486.2 350.0,487.5 351.5,482.5 353.0,475.0 354.5,462.5 356.0,455.0 357.5,453.8 359.0,452.5 360.5,442.5 362.0,425.0 363.0,421.2 364.0,425.0 365.5,440.0 367.5,447.5 369.5,452.5 371.5,455.5 373.5,457.0 375.5,458.8 377.5,460.0 379.5,461.2 381.5,462.5 383.5,464.5 385.5,466.0 387.5,467.5 389.5,466.2 391.5,468.0 393.5,470.0 395.5,471.5 397.5,470.0 399.5,468.0 401.0,463.8 402.5,462.5 404.5,464.5 406.5,464.0 408.5,465.5 410.5,466.2 412.5,465.5 414.5,465.0 416.5,463.0 418.5,462.0 420.0,458.8 422.0,458.8 424.0,461.2 426.0,462.5 428.0,463.0 429.5,461.2 431.0,459.5 432.5,463.8 434.5,465.0 436.5,464.5 438.5,465.0 440.5,465.5 442.5,467.0 444.5,468.0 446.5,469.5 448.5,470.5 450.5,472.0 452.5,472.5 454.0,471.2 455.5,467.0 457.5,467.5 459.5,466.2 461.5,465.5 463.0,468.8 465.0,470.5 467.0,471.2 469.0,471.2 471.0,472.0 473.0,472.5 475.0,473.8 477.0,473.0 479.0,472.0 481.0,470.0 483.0,468.8 485.0,468.0 487.0,469.5 488.5,471.2 490.0,468.8 491.5,467.5 493.0,470.0 495.0,469.5 497.0,472.0 499.0,473.8 501.0,475.5 503.0,477.0 505.0,477.5 507.0,477.5 509.0,478.0 511.0,478.8 513.0,480.0 515.0,481.2 517.0,483.0 519.0,484.5 521.0,486.2 523.0,488.0 525.0,490.0 527.0,492.0 529.0,493.8 531.0,495.5"/>
<polyline class="ln" stroke="#3a6e28" points="702.5,365.0 706.5,365.5 708.0,370.0 710.0,373.8 712.0,376.2 714.0,378.0 716.0,381.2 718.0,383.8 720.0,387.0 722.0,390.5 724.0,393.8 726.0,395.5 727.5,396.2 728.0,435.0 729.0,481.2 731.0,482.5 733.0,484.5 735.0,485.5 736.5,483.8 738.0,477.5 739.0,476.2 740.5,480.0 742.0,483.0 744.0,482.5 746.0,483.8 747.5,477.5 748.5,465.0 749.5,463.8 751.0,472.5 752.5,480.0 754.5,478.8 756.0,485.0 758.0,481.2 760.0,483.8 761.5,485.0 763.0,475.0 764.5,467.5 766.0,463.8 767.5,471.2 769.0,460.0 770.5,455.0 772.0,454.5 773.5,462.5 775.0,467.5 777.0,471.2 779.0,475.0 781.0,478.8 783.0,483.8 785.0,486.2 786.5,480.0 788.0,476.2 789.5,482.5 791.0,475.0 792.5,467.5 794.0,467.0 795.5,473.8 797.5,480.0 799.5,485.0 801.5,491.2 803.5,500.0 805.5,510.0 807.5,520.0 809.5,528.8 811.5,535.0 813.5,538.0 815.5,537.0 817.5,536.2 819.5,538.8 821.5,542.5 823.0,546.2 824.5,550.0 825.5,527.5 826.5,495.0 827.5,472.5 828.5,467.5 830.0,477.5 831.5,488.8 833.0,485.0 834.5,475.0 836.0,471.2 837.5,480.0 839.0,485.0 840.5,477.5 842.0,472.5 843.5,480.0 845.0,483.8 845.5,483.0 846.5,455.0 847.5,422.5 848.5,402.5 849.5,400.0 851.0,405.0 852.0,399.5 853.5,402.5 855.0,412.5 857.0,421.2 858.5,415.0 860.0,411.2 862.0,410.0 863.5,412.5 865.0,425.0 866.5,433.8 868.0,422.5 869.5,411.2 871.0,415.0 872.5,420.0 874.0,422.5 875.5,412.5 877.0,397.5 878.5,387.0 880.0,388.8 882.0,393.8 884.0,401.2 885.5,410.0 887.0,417.5 888.0,420.5 889.0,405.0 890.0,388.8 891.5,387.0 893.0,385.0 894.5,384.5 896.0,387.5 897.5,392.5 899.0,400.0 900.0,406.2 901.5,392.5 903.0,377.5 904.5,368.8 906.5,362.5 908.5,356.2 910.0,353.8 912.0,354.5 913.5,360.0 915.0,370.0 916.5,380.0 917.5,385.0 918.5,372.5 919.5,367.5 921.0,371.2 922.0,385.0 923.5,400.0 925.0,415.0 926.5,421.2 928.0,430.0 929.5,420.0 931.0,410.0 932.5,406.2 934.0,404.5 935.5,412.5 937.0,421.2 938.5,431.2 940.0,438.8 941.5,445.0 943.0,450.0 945.0,452.0 947.0,457.5 949.0,463.8 951.0,472.5 952.5,482.5 954.0,492.5 955.5,502.5 957.0,511.2 958.5,518.8 959.5,526.2 960.5,517.5 961.5,511.2 962.5,515.0 964.0,525.0 965.5,533.8 967.0,538.8 968.5,527.5 970.0,507.5 971.0,493.8 972.5,500.0 974.0,508.8 975.5,513.8 977.0,502.5 978.5,501.2 980.0,507.5 981.5,515.0 983.0,523.8 984.5,532.5 986.0,540.0 987.5,547.5 989.0,535.0 990.5,526.2 992.0,531.2 993.5,540.0 995.0,545.0 997.0,548.8 999.0,552.0 1001.0,553.8 1003.0,556.2 1005.0,558.8 1007.0,561.2 1009.0,563.8 1010.5,562.5 1012.0,556.2 1013.5,553.8 1015.5,555.0 1017.5,557.5 1019.5,559.5 1021.5,561.0 1023.5,562.0 1025.0,550.0 1026.0,530.0 1027.0,510.0 1028.5,498.8 1030.0,500.0 1031.5,495.0 1033.0,487.5 1034.5,481.2 1036.0,487.5 1037.5,495.0 1039.0,502.5 1040.5,500.0 1042.0,492.5 1043.5,485.0 1045.0,477.5 1046.5,476.2 1048.0,480.0 1049.5,487.5 1051.0,495.0 1052.5,500.0 1054.0,485.0 1055.5,467.5 1057.0,455.0 1058.5,453.8 1060.0,462.5 1061.5,471.2 1063.0,475.0 1065.0,476.2 1066.5,471.2 1068.0,472.5 1069.0,455.0 1070.0,442.5 1072.0,442.5 1074.0,443.8 1075.5,440.0 1076.5,427.5 1078.0,418.8 1079.5,427.5 1081.0,435.0 1082.5,437.5 1084.0,445.0 1085.5,452.5 1087.0,458.8 1088.5,462.5 1090.0,463.8 1091.0,445.0 1092.0,436.2 1093.5,435.0 1095.0,440.0 1096.5,447.5 1098.0,455.0 1100.0,457.5 1101.0,462.5 1103.0,467.5 1105.0,473.8 1107.0,478.8 1109.0,483.8 1111.0,488.8 1113.0,493.8 1115.0,497.5 1117.0,500.5 1119.0,505.0 1121.0,510.0 1123.0,513.8 1125.0,516.2 1127.0,518.8 1129.0,520.5 1131.0,521.2 1133.0,522.5 1135.0,523.8 1137.0,525.5 1139.0,527.0 1141.0,528.8 1142.0,529.5 1142.5,497.5 1143.0,465.0 1144.0,445.5 1145.5,451.2 1147.0,457.5 1148.5,465.0 1150.0,473.8 1151.5,478.0 1153.0,476.2 1154.5,480.0 1156.0,479.5 1157.5,478.8 1159.0,481.2 1161.0,484.5 1163.0,487.5 1165.0,490.0 1167.0,492.5 1169.0,493.0 1171.0,496.2 1173.0,498.8 1175.0,501.2 1177.0,504.5 1178.5,506.2 1180.0,505.0 1181.5,495.0 1183.0,483.8 1184.5,477.5 1186.0,465.5 1187.5,471.2 1189.0,478.8 1190.5,481.2 1192.0,478.8 1193.5,478.0 1195.0,481.2 1196.5,485.0 1198.0,488.8 1199.5,492.5 1201.0,495.0 1202.5,501.2 1204.0,508.8 1205.5,516.2 1207.0,525.0 1208.5,531.2 1209.5,510.0 1210.5,485.0 1211.5,460.0 1212.5,442.5 1213.5,440.0 1215.0,443.8 1216.5,445.0 1218.0,444.5 1219.0,450.0 1220.0,460.0 1221.5,470.0 1223.0,480.0 1224.5,490.0 1225.5,487.5 1226.5,472.5 1228.0,467.0 1229.0,466.2 1230.0,475.0 1231.0,480.0 1232.0,477.5 1233.0,477.0 1234.5,485.0 1236.0,487.5 1237.5,491.2 1239.0,495.0 1240.0,496.2"/>
<polyline class="ln" stroke="#a8b060" points="77.5,532.5 79.5,541.2 81.5,542.5 83.5,540.0 85.5,532.5 87.5,525.0 89.0,500.0 90.5,470.0 92.0,458.8 94.0,461.2 96.0,463.8 98.0,461.2 100.0,456.2 101.5,455.0 103.0,460.0 105.0,465.0 107.0,471.2 109.0,473.8 111.0,478.8 113.0,482.5 114.5,467.5 116.0,460.0 117.5,467.5 119.0,477.5 121.0,482.5 122.5,472.5 124.0,462.5 125.5,456.2 127.5,454.5 129.0,456.2 130.5,462.5 132.5,471.2 134.5,477.5 136.5,483.8 138.5,490.0 140.5,496.2 142.5,501.2 144.5,507.5 146.5,513.8 148.0,508.8 149.5,505.5 151.0,507.0 152.5,512.5 154.5,520.0 156.5,526.2 158.5,532.5 160.5,538.8 162.5,545.0 164.5,551.2 166.5,557.5 168.5,563.8 170.5,568.8 172.5,573.8 174.5,577.0 177.0,578.8 178.5,570.0 180.0,557.5 181.5,552.5 183.0,551.2 184.5,557.5 186.5,563.8 188.5,570.0 190.5,572.5 192.5,572.0 194.5,572.5 196.0,565.0 197.5,540.0 199.0,517.5 200.5,505.0 202.5,500.0 204.5,497.0 206.5,496.2 208.5,498.8 210.5,501.2 212.5,503.8 214.5,505.5 216.5,508.0 218.5,511.2 220.5,515.0 222.5,521.2 224.0,525.0 225.5,520.0 227.0,516.2 229.0,515.0 231.0,514.5 233.0,511.2 235.0,506.2 236.5,496.2 238.0,488.0 239.5,496.2 241.0,501.2 243.0,502.5 245.0,505.5 247.0,510.0 249.0,515.0 251.0,520.5 253.0,524.5 255.0,528.8 257.5,533.8 260.0,538.8 262.5,542.5 265.0,547.0 267.5,550.0 270.0,552.5 272.5,555.0 275.0,557.0 277.0,557.5 278.5,550.0 280.0,541.2 282.0,542.5 284.0,543.0 286.0,542.0 288.0,541.2 290.0,536.2 291.5,535.0 293.0,537.5 295.0,540.0 297.0,542.5 299.0,543.8 301.0,541.2 303.0,542.5 305.0,544.5 307.0,543.0 309.0,541.2 311.0,538.8 312.5,537.0 314.0,545.0 315.5,547.5 317.5,545.0 319.5,542.5 321.5,540.0 323.5,538.8 325.5,536.2 327.5,533.8 329.5,530.5 331.5,528.0 333.5,526.2 335.5,527.0 337.5,525.0 339.5,526.2 341.5,523.8 343.5,524.5 345.5,523.8 347.5,523.0 349.5,522.5 351.5,520.5 353.5,518.0 355.5,520.0 357.5,519.5 359.5,517.0 361.5,515.0 363.5,513.8 365.5,513.0 367.5,514.5 369.5,516.2 371.5,518.0 373.5,519.5 375.5,522.0 377.5,524.5 379.5,526.2 381.5,528.0 383.5,530.5 385.5,533.8 387.5,537.0 389.5,540.0 391.5,542.5 393.5,545.0 395.5,548.8 397.0,540.0 398.5,532.5 400.0,523.8 401.5,520.0 403.0,521.2 405.0,525.0 407.0,527.5 409.0,527.0 411.0,530.0 412.5,532.0 414.0,520.0 415.5,505.0 417.0,498.8 418.5,496.2 420.0,493.8 421.0,497.5 423.0,502.0 425.0,507.0 427.0,512.0 429.0,517.5 431.0,523.8 433.0,528.8 434.5,531.2 436.0,520.0 437.0,507.5 438.5,515.0 440.5,521.2 442.5,526.2 444.5,530.5 446.5,535.0 448.5,538.8 450.5,540.5 452.0,536.2 453.5,526.2 455.0,518.0 457.0,518.8 459.0,521.2 461.0,527.5 463.0,534.5 465.0,540.0 467.0,542.0 469.0,542.5 471.0,545.0 473.0,548.0 475.0,551.2 476.0,547.5 477.5,535.0 479.0,522.5 480.5,513.8 482.0,510.5 483.5,507.5 485.0,503.0 486.5,508.0 488.0,510.5 490.0,512.5 492.0,519.5 494.0,528.0 496.0,536.2 498.0,546.2 499.5,547.5 500.5,540.0 501.5,525.0 502.5,515.0 504.0,507.5 505.5,498.8 507.0,496.2 508.0,500.0 509.5,505.0 511.5,513.8 513.5,522.5 515.5,532.0 517.5,541.2 519.5,550.0 521.5,559.5 523.5,568.8 525.5,577.5 527.5,581.2 529.5,585.0 531.5,592.0 532.5,565.0 533.5,527.5 534.5,502.5 535.5,515.0 537.0,535.0 538.5,550.0 540.0,562.5 541.5,572.5 543.0,577.0 544.5,560.0 545.5,527.5 546.5,490.0 547.5,482.5 549.0,479.5 550.5,495.0 552.5,507.5 554.5,517.5 556.5,526.2 558.0,527.5 559.0,515.0 560.0,477.5 560.5,450.0 562.0,448.8 563.0,465.0 564.0,453.8 565.0,446.2 566.5,460.0 568.0,470.0 570.0,472.5 572.0,471.2 574.0,473.8 576.0,475.0 578.0,477.5 580.0,482.5 582.0,485.0 583.5,483.8 585.0,490.0 586.0,493.8 587.5,490.0 588.5,470.0 589.5,452.0 591.0,458.8 592.5,465.0 594.5,467.5 596.5,473.8 598.5,480.0 600.5,487.5 602.5,495.0 604.0,497.5 605.5,490.0 607.0,475.0 609.0,472.5 611.0,472.0 613.0,477.5 615.0,485.0 617.0,491.2 619.0,497.5 621.0,500.0 622.5,492.5 624.5,485.0 626.5,475.0 628.0,465.0 629.0,460.0 630.5,470.0 632.0,472.5 633.5,465.0 635.0,452.5 636.0,435.0 637.5,433.8 638.5,427.5 640.0,422.0 641.5,435.0 643.0,445.0 644.5,452.5 646.5,458.8 648.0,465.0 650.0,462.5 651.5,450.0 653.0,443.8 654.5,447.5 656.0,457.5 657.5,462.5 659.5,457.5 661.5,456.2 663.5,461.2 665.5,467.5 667.5,471.2 669.5,475.0 671.5,480.0 673.5,484.5 675.5,488.8 677.5,491.2 679.5,494.5 681.0,495.0 683.0,490.5 685.0,493.0 687.0,495.0 689.0,493.8 690.5,487.5 692.0,480.0 694.0,479.5 696.0,477.5 698.0,472.5 700.0,462.5 701.5,456.2 703.5,454.5 705.0,450.0 706.5,449.5 707.5,460.0 708.5,472.5 710.0,475.0 711.5,481.2 713.0,486.2 714.5,487.0 716.5,491.2 718.5,493.8 720.5,495.0 722.5,497.5 724.5,498.8 726.5,501.2 728.0,510.0 729.5,521.2 731.5,522.0 733.5,520.0 735.5,521.2 737.5,521.2 739.5,522.0 741.5,521.2 743.0,510.0 744.5,500.0 746.5,499.5 748.0,501.2 749.5,515.0 751.5,519.5 753.5,520.5 755.5,517.5 757.5,520.0 760.0,518.8 761.0,518.0 762.5,517.5 764.5,517.0 766.5,518.0 768.5,517.5 770.5,518.8 772.5,518.0 774.5,519.5 776.5,520.0 778.5,521.2 780.5,522.5 782.5,524.5 784.5,525.0 786.5,522.5 788.5,522.0 790.0,517.5 791.5,515.5 793.0,517.5 795.0,520.0 797.0,522.5 799.0,525.0 801.0,527.5 803.0,530.0 805.0,533.0 807.0,536.2 809.0,540.0 811.0,543.8 813.0,547.0 815.0,548.8 817.0,548.0 819.0,547.5 821.0,550.0 823.0,555.0 824.5,557.5 826.0,550.0 827.5,542.5 829.0,541.2 830.5,543.8 832.5,547.5 834.5,551.2 836.5,553.8 838.0,540.0 839.5,526.2 841.0,523.8 842.5,527.5 844.0,535.0 845.5,540.0 847.0,537.5 848.5,520.0 850.0,507.5 851.5,500.0 853.0,497.5 854.5,501.2 856.0,515.0 857.5,526.2 859.0,517.5 860.5,507.5 862.0,510.0 863.5,517.5 865.0,525.0 866.5,531.2 868.5,538.8 870.5,545.0 872.5,548.8 874.5,549.5 875.5,535.0 876.5,510.0 877.5,493.8 878.5,488.8 880.0,491.2 882.0,497.5 883.5,505.0 885.0,512.5 886.5,518.8 888.0,520.5 889.0,510.0 890.0,500.0 891.0,495.0 892.5,501.2 894.0,507.5 895.5,500.0 897.0,492.5 898.5,487.5 900.0,485.5 901.0,480.0 902.5,487.5 904.0,492.5 905.5,492.0 907.0,495.0 908.5,497.5 910.0,500.0 911.5,497.5 913.0,495.0 914.5,497.5 916.0,505.0 917.5,512.5 919.0,516.2 920.5,515.0 922.0,520.0 923.5,527.5 925.0,535.0 926.5,540.0 928.0,545.0 929.5,550.0 930.5,552.0 932.0,547.5 934.0,540.0 936.0,533.8 938.0,528.8 940.0,527.5 942.0,532.5 944.0,541.2 945.5,533.8 947.5,523.8 949.0,522.5 950.5,527.5 952.0,535.0 953.5,542.5 955.0,551.2 956.5,560.0 958.0,567.5 959.5,575.0 961.0,581.2 962.5,585.0 964.0,585.5 965.0,570.0 966.0,550.0 967.5,537.5 969.5,536.2 971.5,535.5 973.0,540.0 974.5,545.0 976.0,535.0 977.5,531.2 979.0,536.2 980.5,542.5 982.0,550.0 983.5,556.2 985.0,562.5 986.5,567.5 988.0,571.2 990.0,572.5 992.0,575.0 994.0,578.8 996.0,582.5 998.0,585.0 1000.0,587.5 1002.0,589.0 1004.0,590.0 1006.0,590.5 1008.0,591.2 1010.0,590.0 1011.0,582.5 1012.0,572.5 1013.5,565.0 1015.0,553.8 1016.5,552.5 1018.0,552.0 1019.5,553.8 1021.0,557.5 1022.5,562.5 1024.0,567.5 1025.5,570.0 1027.0,560.0 1028.0,547.5 1029.0,535.0 1030.0,522.5 1031.5,510.0 1033.0,502.5 1034.5,498.0 1036.0,499.5 1037.5,503.0 1039.0,507.0 1040.5,503.0 1042.0,502.0 1044.0,504.5 1046.0,508.0 1048.0,512.0 1050.0,515.5 1051.5,519.5 1053.0,498.0 1054.5,483.0 1056.0,474.5 1057.5,469.5 1059.0,470.5 1060.5,478.0 1062.5,483.0 1064.5,487.0 1066.5,488.8 1068.5,485.5 1070.5,480.5 1072.5,479.5 1074.5,475.5 1076.0,469.5 1077.5,465.5 1079.0,470.5 1080.5,478.0 1082.0,485.5 1084.0,493.0 1086.0,499.5 1087.5,503.0 1089.5,500.5 1091.5,495.5 1093.5,490.5 1095.5,493.0 1097.5,500.5 1100.0,508.0 1101.0,511.2 1103.0,515.0 1105.0,518.8 1107.0,522.0 1109.0,524.5 1111.0,526.2 1113.0,527.5 1115.0,528.8 1117.0,529.5 1119.0,530.5 1121.0,531.2 1123.0,532.0 1125.0,532.5 1127.0,533.0 1129.0,533.5 1131.0,533.8 1133.0,534.0 1135.0,534.5 1137.0,535.0 1139.0,536.2 1140.5,538.8 1142.0,545.0 1143.5,552.0 1145.0,550.0 1147.0,546.2 1149.0,542.5 1151.0,541.2 1153.0,538.8 1155.0,536.2 1157.0,534.5 1158.5,536.2 1160.0,538.8 1162.0,536.2 1164.0,534.5 1166.0,532.5 1168.0,531.2 1170.0,530.5 1171.5,532.5 1173.0,537.5 1174.5,542.5 1176.0,544.5 1177.5,540.0 1179.0,535.0 1180.5,536.2 1182.0,533.8 1183.5,528.8 1185.0,523.8 1186.5,522.0 1188.5,523.0 1190.5,525.0 1192.5,527.0 1194.5,528.8 1196.5,530.5 1198.5,532.5 1200.5,534.5 1202.5,537.0 1204.5,539.5 1206.5,541.2 1208.5,543.0 1210.0,543.8 1211.0,525.0 1212.0,505.0 1213.0,500.0 1214.5,505.5 1216.0,510.5 1217.5,515.0 1219.5,520.5 1221.5,526.2 1223.5,530.0 1225.5,533.0 1227.5,535.0 1229.0,533.0 1230.5,532.0 1232.0,534.0 1234.0,535.5 1236.0,537.0 1237.5,535.0 1239.0,537.5 1241.0,538.0 1242.5,532.5 1244.0,527.5 1245.5,526.2 1247.0,533.0 1248.5,535.5 1249.5,527.5 1250.5,515.0 1251.5,503.8 1253.0,500.0 1254.5,499.5 1255.5,505.0 1257.0,510.5 1258.5,513.8 1259.5,505.5 1260.5,502.5 1262.0,506.2 1263.0,504.5 1264.0,503.0 1265.0,510.0 1266.5,517.5 1268.0,523.8 1269.5,530.0 1271.0,535.0 1272.5,538.8 1274.0,539.5 1275.5,515.0 1276.5,497.5 1277.5,487.5 1279.0,486.2 1280.5,484.5 1282.0,483.8 1283.5,490.0 1285.0,500.0 1286.5,512.5 1288.0,507.5 1289.5,506.2 1291.0,512.5 1292.5,518.8 1294.0,522.5 1295.5,524.5 1297.0,525.5 1298.5,530.0 1300.0,535.5 1301.5,530.0 1303.0,522.5 1304.5,519.5 1306.0,520.5 1308.0,521.2"/>
<polyline class="ln" stroke="#58a8e8" points="77.5,519.5 79.5,516.2 81.0,505.0 82.5,500.0 84.0,507.5 85.5,515.0 87.5,519.5 89.0,510.0 90.5,492.5 92.0,480.0 93.5,477.5 95.0,460.0 96.5,435.0 97.5,427.0 99.0,433.8 100.5,437.5 102.0,436.2 103.5,440.0 105.0,445.0 106.5,443.8 108.0,447.5 110.0,450.0 112.0,452.5 114.0,453.8 115.5,435.0 117.0,423.8 118.5,430.0 120.0,440.0 121.5,435.0 123.0,428.8 124.5,432.5 126.0,437.5 127.5,425.0 129.0,417.5 130.5,416.2 132.0,421.2 133.5,427.5 135.5,432.5 137.5,437.5 139.5,442.5 141.5,447.5 143.5,448.8 145.5,452.5 147.0,455.0 148.5,451.2 150.0,450.0 152.0,455.0 154.0,460.0 156.0,465.0 158.0,470.0 160.0,476.2 162.5,483.8 165.0,491.2 167.5,500.0 170.0,508.8 172.5,517.5 175.0,525.0 177.5,530.0 180.0,534.5 182.5,538.0 184.5,540.5 186.0,537.5 187.0,520.0 188.0,505.0 189.0,499.5 190.5,505.0 192.5,508.8 194.5,510.0 196.5,513.0 198.5,514.5 200.0,507.5 201.5,495.0 203.0,490.5 205.0,491.2 207.0,490.5 209.0,492.5 211.0,494.5 213.0,496.2 215.0,497.0 217.0,501.2 219.0,505.0 221.0,508.8 223.0,507.5 224.5,490.0 226.0,481.2 227.5,487.5 229.5,493.8 231.5,495.0 233.5,490.0 235.0,475.0 236.0,457.5 237.0,452.0 238.5,460.0 240.0,466.2 242.0,463.8 244.0,461.2 245.5,465.0 247.0,471.2 249.0,477.5 251.0,482.5 253.0,486.2 255.0,488.8 257.5,492.5 260.0,496.2 262.5,500.0 265.0,503.0 267.5,506.2 270.0,508.8 272.5,512.5 275.0,515.5 276.5,516.2 278.0,507.5 279.5,498.8 281.0,503.8 282.5,508.8 284.5,510.0 286.5,507.5 288.5,506.2 290.5,505.0 292.5,503.8 294.5,504.5 296.5,506.2 298.5,507.5 300.5,508.0 302.5,508.8 304.5,510.0 306.5,510.5 308.5,511.2 310.0,495.0 311.5,477.5 312.5,473.8 314.0,482.5 315.5,487.5 317.5,485.0 319.5,477.5 321.0,467.5 322.5,462.5 324.0,463.8 325.5,470.0 327.5,477.5 329.5,482.5 331.0,481.2 332.5,478.8 334.0,472.5 335.5,468.8 337.0,470.0 339.0,473.8 341.0,478.8 343.0,483.8 345.0,487.5 347.0,491.2 349.0,493.8 350.5,493.8 352.0,488.8 354.0,482.5 356.0,478.8 358.0,475.0 359.5,460.0 361.0,451.2 362.5,448.8 364.0,450.5 365.5,455.0 367.5,461.2 369.5,466.2 371.5,470.0 373.5,473.8 375.5,477.5 377.5,481.2 379.5,485.0 381.5,488.8 383.5,492.5 385.5,496.2 387.5,500.0 389.5,502.5 391.5,503.8 393.5,511.2 395.5,515.0 397.5,510.0 399.5,507.5 401.5,505.0 403.5,504.5 405.5,501.2 407.5,495.0 409.5,498.8 411.5,500.0 413.5,497.5 415.5,495.0 417.5,491.2 419.0,485.0 420.0,480.0 422.0,482.5 424.0,486.2 426.0,489.5 428.0,491.2 430.0,490.5 431.5,491.2 433.0,495.0 435.0,498.8 437.0,502.5 439.0,505.0 441.0,506.2 443.0,508.8 445.0,512.5 446.5,513.8 448.0,510.0 450.0,511.2 452.0,514.5 454.0,513.8 456.0,511.2 458.0,508.8 460.0,506.2 461.5,502.5 463.0,505.0 465.0,508.8 467.0,511.2 469.0,510.0 471.0,512.5 473.0,515.0 475.0,517.0 477.0,517.5 479.0,516.2 481.0,514.5 483.0,515.5 485.0,517.0 487.0,518.8 489.0,520.5 491.0,522.5 493.0,523.8 495.0,525.0 496.5,528.8 498.0,526.2 499.5,527.5 501.0,526.2 502.5,528.8 504.0,510.0 505.0,490.0 506.5,480.0 508.0,487.5 509.5,491.2 511.0,495.0 513.0,500.0 515.0,506.2 517.0,512.5 519.0,520.0 521.0,527.5 523.0,535.0 524.5,542.5 526.0,547.5"/>
<polyline class="ln" stroke="#58a8e8" points="929.0,442.5 930.5,443.0 932.0,446.2 934.0,448.8 935.5,455.0 937.0,460.0 938.5,465.0 940.0,468.8 941.5,472.5 943.0,480.0 944.5,486.2 946.0,487.5 947.5,487.0 949.0,490.0 950.5,497.5 952.0,505.0 953.5,513.8 955.0,522.5 956.5,532.5 958.0,542.5 959.5,552.5 961.0,562.5 962.5,571.2 964.0,578.8 965.5,583.8 967.0,586.2 968.5,580.0 970.0,570.0 971.5,563.8 973.0,562.5 974.5,567.5 976.0,572.5 977.5,577.5 979.0,579.5 980.5,581.2 982.5,584.5 984.5,588.0 986.5,592.0 988.5,595.0 989.5,585.0 990.5,573.8 991.5,572.0 993.0,576.2 994.5,581.2 996.0,582.5 997.5,578.8 999.0,577.0 1000.5,578.8 1002.5,583.8 1004.5,587.5 1006.5,590.0 1008.5,592.5 1010.5,594.5 1012.5,593.0 1014.5,592.0 1016.5,590.0 1018.0,587.5 1019.5,590.0 1021.0,593.8 1022.5,596.2 1024.0,598.0 1025.5,600.0 1026.5,595.0 1027.5,587.5 1029.0,585.0 1030.5,583.8 1032.0,580.0 1033.5,570.0 1035.0,557.5 1036.5,547.5 1038.0,537.5 1039.5,527.5 1041.0,515.0 1042.5,508.0 1044.0,510.0 1046.0,515.0 1048.0,521.2 1050.0,527.5 1052.0,534.5 1053.5,525.0 1055.0,510.0 1056.5,498.8 1058.0,495.0 1059.5,500.0 1061.0,505.0 1062.5,502.5 1064.0,498.8 1065.5,495.0 1067.0,491.2 1069.0,492.5 1070.0,485.0 1071.0,480.0 1072.5,487.5 1074.0,492.5 1075.5,490.0 1076.5,478.8 1077.5,472.5 1078.5,480.0 1080.0,487.5 1081.5,493.8 1083.0,497.5 1084.5,501.2 1086.0,504.5 1089.0,505.8 1090.5,498.8 1092.0,490.0 1093.2,483.5 1094.2,488.8 1095.0,492.0 1096.0,483.8 1097.0,475.0 1098.0,482.5 1099.2,490.5 1101.5,495.0 1103.5,500.5 1105.5,503.8 1107.5,507.0 1109.5,510.0 1112.0,512.5 1114.0,513.0 1115.5,513.5 1117.5,516.0 1119.0,517.8 1121.0,519.5 1123.0,521.0 1125.0,522.0 1126.2,522.0 1127.5,515.5 1129.0,509.0 1130.5,506.2 1132.0,502.0 1133.2,497.5 1134.5,496.5 1136.0,500.0 1137.8,504.0 1139.5,507.5 1141.0,510.5 1142.2,512.5 1143.0,513.5"/>
<polyline class="ln" stroke="#000000" points="77.5,561.2 79.5,572.5 81.5,580.0 83.5,586.2 85.5,591.2 87.5,593.0 89.0,570.0 90.5,540.0 92.0,520.0 94.0,516.2 96.0,513.8 97.0,500.0 98.0,493.8 99.0,503.8 100.0,511.2 102.0,513.8 104.0,520.0 106.0,527.5 108.0,532.5 110.0,536.2 112.0,540.0 113.5,543.8 114.5,527.5 115.5,512.5 117.0,504.5 118.0,510.0 119.0,520.0 120.5,528.8 121.5,522.5 123.0,517.5 124.5,523.8 126.0,530.0 127.5,521.2 129.5,520.0 131.0,525.0 132.5,530.0 134.5,536.2 136.5,541.2 138.5,548.8 140.5,556.2 142.5,563.8 144.5,572.5 146.5,582.0 148.0,570.0 149.5,558.8 150.5,557.5 152.0,565.0 154.0,575.0 156.0,583.8 158.0,590.0 160.0,597.5 162.0,605.0 164.0,611.2 166.0,616.2 168.0,619.5 170.0,622.0 172.5,623.8 175.0,625.0 177.5,625.5 180.0,626.5 182.5,626.2 185.0,627.5 187.5,628.8 189.5,630.0 191.0,630.5 192.5,625.0 194.0,623.8 196.0,625.5 198.0,624.5 200.0,620.0 201.0,610.0 202.0,595.0 203.5,577.5 205.0,565.0 207.0,560.0 209.0,558.0 211.0,560.0 213.0,566.2 215.0,570.0 217.0,571.2 219.0,576.2 221.0,583.8 223.0,592.5 224.0,595.5 225.5,585.0 227.0,577.5 228.5,575.0 229.5,557.5 230.5,543.8 232.5,542.5 234.5,543.0 235.5,535.0 236.5,522.5 237.5,519.5 238.5,528.8 239.5,536.2 241.5,538.8 243.5,540.0 245.5,541.2 247.5,545.0 249.5,551.2 251.5,557.5 253.5,562.5 255.5,566.2 257.5,571.2 259.5,576.2 261.5,580.0 263.5,585.0 265.5,590.0 267.5,596.2 269.5,601.2 271.5,605.0 273.5,608.8 275.5,612.0 277.0,610.0 278.0,595.0 279.0,570.0 280.0,553.8 281.0,557.5 282.5,563.8 284.5,570.0 286.5,571.2 288.5,570.5 290.5,570.0 292.5,572.0 294.5,573.8 296.5,577.0 298.5,578.0 300.5,576.2 302.5,576.2 304.5,578.0 306.5,580.0 308.5,580.5 309.5,570.0 310.5,560.0 312.0,555.0 313.0,565.0 314.5,579.5 316.0,576.2 317.5,570.0 319.5,562.5 321.5,556.2 323.5,554.5 325.5,557.0 327.5,560.0 329.5,562.5 331.5,565.0 333.0,561.2 334.5,557.5 336.5,555.5 338.5,558.0 340.5,561.2 342.5,565.0 344.5,570.0 346.5,573.8 348.5,577.0 350.0,578.0 351.5,570.0 353.0,560.0 354.5,557.0 356.0,561.2 357.5,560.0 359.5,561.2 360.5,550.0 361.5,535.0 363.0,525.0 364.5,522.5 366.0,526.2 367.5,531.2 369.5,536.2 371.5,541.2 373.5,547.5 375.5,551.2 377.5,556.2 379.5,560.0 381.5,563.8 383.5,567.5 385.5,572.5 387.5,578.8 389.5,584.5 391.5,588.0 393.5,590.0 395.5,598.0 397.0,592.5 398.5,582.5 400.0,570.0 401.5,557.5 402.5,554.5 404.0,562.5 406.0,568.8 408.0,572.5 410.0,577.5 412.0,582.5 413.5,584.5 415.0,570.0 416.5,557.5 418.0,550.0 420.0,545.0 421.0,547.5 422.5,552.5 424.0,558.8 426.0,562.5 428.0,566.2 430.0,571.2 432.0,578.8 433.5,585.0 435.0,588.8 436.0,565.0 437.0,547.5 438.0,551.2 439.5,560.0 441.0,562.5 442.5,568.8 444.5,576.2 446.5,582.5 448.0,591.2 449.5,600.0 451.0,607.5 452.5,611.2 454.0,612.0 455.5,605.0 457.0,597.5 458.5,590.0 460.0,587.5 462.0,585.0 463.5,592.5 465.0,602.5 466.5,610.0 468.0,613.8 470.0,614.5 472.0,615.0 474.0,617.5 476.0,619.5 477.5,600.0 479.0,577.5 480.5,562.5 482.5,556.2 484.5,555.0 485.5,551.2 487.0,554.5 489.0,553.8 491.0,553.0 492.0,560.0 493.5,567.5 495.0,575.0 496.5,582.5 498.0,595.0 499.5,610.0 501.0,616.2 502.5,617.5 504.0,616.2 505.0,602.5 506.0,585.0 507.0,571.2 508.5,570.5 509.5,580.0 511.0,592.5 512.5,605.0 514.0,615.0 516.0,622.5 518.0,627.5 520.0,631.2 522.0,634.5 524.0,636.2 525.0,630.0 526.0,623.8 527.0,622.0"/>
<polyline class="ln" stroke="#000000" points="700.5,537.0 702.5,533.8 704.5,530.0 706.0,528.0 707.5,533.8 709.0,538.0 711.0,542.0 713.0,546.2 715.0,548.0 717.0,550.0 719.0,552.0 721.0,552.5 723.0,554.5 725.0,555.5 727.0,557.0 728.0,572.5 729.0,587.5 731.0,590.0 733.0,592.0 735.0,593.0 737.0,594.5 738.5,590.0 740.0,582.5 741.5,577.0 743.5,576.2 745.5,574.5 747.5,576.2 749.5,577.5 751.0,582.5 752.5,581.2 754.5,583.0 756.5,582.5 758.5,585.0 760.0,587.5 762.0,592.0 764.0,590.5 766.0,589.5 768.0,589.0 770.0,589.5 772.0,590.5 774.0,592.0 776.0,593.0 778.0,595.0 780.0,596.2 782.0,600.0 783.5,602.5 784.5,595.0 785.5,580.0 786.5,566.2 788.0,570.0 789.5,567.5 791.5,568.8 793.5,571.2 795.5,575.0 797.5,578.8 799.5,582.5 801.5,585.0 803.5,590.0 805.5,593.8 807.5,597.5 809.5,601.2 811.5,605.5 813.0,607.0 814.5,603.8 816.0,608.0 817.5,606.2 819.0,605.0 821.0,605.5 822.5,607.5 824.5,609.5 825.5,600.0 826.5,582.5 827.5,568.8 829.0,571.2 830.5,575.0 832.5,580.0 834.5,583.8 836.0,582.5 837.5,575.0 839.0,570.0 840.5,565.0 842.0,563.8 843.5,567.5 845.0,572.5 846.5,577.5 848.0,570.0 849.5,560.0 851.0,551.2 852.5,547.0 854.0,551.2 855.5,560.0 857.0,566.2 858.0,560.0 859.5,550.0 861.0,549.5 862.5,552.5 864.0,557.5 865.5,562.5 867.0,567.5 868.5,572.5 870.0,576.2 872.0,579.5 874.0,582.5 875.5,575.0 876.5,560.0 877.5,547.5 878.5,543.0 880.0,547.5 881.5,552.5 883.0,557.5 884.5,562.5 886.0,567.5 887.5,572.5 888.5,573.8 889.5,560.0 890.5,550.0 892.0,553.8 893.5,561.2 895.0,557.5 896.5,553.8 898.0,552.5 899.5,555.5 901.0,557.5 903.0,559.5 904.5,561.2 906.0,558.8 907.5,556.2 909.0,557.5 911.0,555.5 913.0,554.5 914.5,560.0 916.0,567.5 917.5,573.8 919.0,577.5 921.0,576.2 922.5,582.5 924.0,590.0 925.5,597.5 927.0,601.2 928.5,602.0 929.5,590.0 930.5,580.0 932.0,581.2 933.5,580.0 935.0,578.8 936.5,585.0 938.0,590.0 939.5,591.2 941.0,595.0 942.5,598.8 944.0,602.0 945.5,604.5 947.5,603.8 949.5,601.2 951.0,604.5 952.5,607.5 954.5,611.2 956.5,613.8 958.5,615.5 960.0,612.5 961.5,602.5 963.0,606.2 964.5,612.5 966.0,616.2 967.5,618.0 969.5,615.0 971.5,613.8 973.5,615.0 975.5,617.5 977.5,619.5 979.5,618.8 981.5,618.0 983.5,618.8 985.5,618.0 987.5,619.0 989.0,617.0 990.5,618.8 992.5,618.0 994.5,616.5 996.5,617.0 998.5,617.5 1000.5,618.0 1002.5,618.5 1004.5,619.0 1006.5,619.0 1008.5,618.5 1010.5,618.0 1012.5,618.0 1014.0,618.8 1015.0,610.0 1016.0,595.0 1017.0,585.0 1018.0,582.0 1019.5,587.5 1021.0,595.0 1022.5,600.0 1024.0,606.2 1025.5,611.2 1027.0,612.0 1028.5,605.0 1030.0,602.5 1031.5,600.0 1032.5,587.5 1033.5,572.5 1034.5,562.5 1036.0,563.8 1038.0,565.0 1040.0,566.2 1042.0,567.0 1044.0,568.8 1046.0,570.5 1048.0,573.0 1050.0,577.0 1051.5,582.5 1053.0,586.2 1054.0,575.0 1055.5,560.0 1057.0,545.0 1058.5,540.0 1060.0,545.0 1061.5,551.2 1063.5,552.0 1065.0,550.0 1066.5,548.8 1068.0,552.5 1069.5,545.0 1071.0,540.0 1072.5,538.8 1074.0,537.0 1075.5,540.0 1076.5,532.5 1077.5,525.5 1078.5,532.5 1080.0,540.0 1081.5,546.2 1083.0,551.2 1084.5,555.0 1086.5,557.0 1088.5,558.0 1090.5,556.2 1092.0,551.2 1093.5,550.0 1095.0,553.8 1096.5,556.2 1098.0,557.5 1100.0,562.5 1102.5,566.2 1104.5,569.5 1106.5,572.0 1108.5,576.2 1110.5,580.5 1112.5,584.5 1114.5,587.5 1116.5,588.8 1118.5,592.0 1120.5,594.5 1122.5,596.5 1124.5,598.0 1126.5,599.5 1128.5,600.0 1130.5,601.2 1132.5,601.5 1134.5,602.5 1136.5,603.0 1138.5,603.8 1140.5,604.5 1142.0,605.0 1143.5,601.2 1145.5,600.5 1147.5,601.2 1149.5,603.8 1151.5,606.2 1153.5,607.0 1155.5,606.2 1157.5,608.8 1159.5,608.0 1161.5,607.5 1163.5,607.0 1165.0,606.2 1166.5,595.0 1168.0,583.8 1170.0,583.0 1172.0,586.2 1174.0,588.0 1176.0,588.8 1178.0,589.5 1180.0,591.2 1182.0,592.5 1183.5,587.5 1185.0,581.2 1186.5,578.8 1188.5,580.5 1190.5,582.5 1192.5,585.0 1194.5,587.5 1196.5,591.2 1198.5,594.5 1200.5,598.8 1202.5,602.0 1204.5,605.0 1206.5,608.8 1208.5,611.2 1210.0,612.5 1211.0,600.0 1212.0,570.0 1213.0,545.0 1214.5,547.5 1216.0,552.0 1217.5,555.5 1219.5,558.8 1221.5,562.5 1223.5,566.2 1225.5,568.0 1226.5,562.5 1228.0,557.5 1229.5,558.0 1231.0,560.0 1233.0,562.0 1235.0,564.5 1237.0,566.2 1239.0,568.0 1241.0,567.5 1242.5,562.0 1244.0,557.5 1245.5,559.5 1247.5,561.0 1249.5,561.2 1250.5,555.0 1252.0,550.5 1253.5,549.5 1255.0,551.2 1256.5,550.0 1258.0,545.0 1259.5,541.2 1261.5,540.5 1263.0,538.8 1264.0,542.5 1265.5,548.8 1267.0,553.0 1268.5,555.5 1270.0,558.8 1272.0,560.5 1274.0,561.2 1275.5,560.0 1276.5,550.0 1277.5,543.8 1279.0,545.0 1281.0,546.2 1282.5,548.0 1284.0,551.2 1285.5,555.0 1287.0,558.8 1289.0,560.5 1291.0,562.5 1292.5,565.0 1294.0,568.8 1295.5,570.0 1297.0,572.0 1298.5,573.8 1300.0,575.0 1302.0,575.0 1303.0,565.0 1304.0,557.5 1305.0,556.2 1306.5,561.2 1308.0,562.5"/>
<rect class="ax" x="72.8" y="3.85" width="1307.2" height="310.9"/>
<rect class="ax" x="72.8" y="330.4" width="1307.2" height="311.1"/>
<line class="tk" x1="62.3" y1="314.8" x2="72.8" y2="314.8"/><text x="53.3" y="326.8" text-anchor="end">0.0</text>
<line class="tk" x1="62.3" y1="266.9" x2="72.8" y2="266.9"/><text x="53.3" y="278.9" text-anchor="end">0.1</text>
<line class="tk" x1="62.3" y1="218.9" x2="72.8" y2="218.9"/><text x="53.3" y="230.9" text-anchor="end">0.2</text>
<line class="tk" x1="62.3" y1="171.1" x2="72.8" y2="171.1"/><text x="53.3" y="183.1" text-anchor="end">0.3</text>
<line class="tk" x1="62.3" y1="123.2" x2="72.8" y2="123.2"/><text x="53.3" y="135.2" text-anchor="end">0.4</text>
<line class="tk" x1="62.3" y1="75.2" x2="72.8" y2="75.2"/><text x="53.3" y="87.2" text-anchor="end">0.5</text>
<line class="tk" x1="62.3" y1="641.5" x2="72.8" y2="641.5"/><text x="53.3" y="653.5" text-anchor="end">0.0</text>
<line class="tk" x1="62.3" y1="593.6" x2="72.8" y2="593.6"/><text x="53.3" y="605.6" text-anchor="end">0.1</text>
<line class="tk" x1="62.3" y1="545.7" x2="72.8" y2="545.7"/><text x="53.3" y="557.7" text-anchor="end">0.2</text>
<line class="tk" x1="62.3" y1="497.8" x2="72.8" y2="497.8"/><text x="53.3" y="509.8" text-anchor="end">0.3</text>
<line class="tk" x1="62.3" y1="449.9" x2="72.8" y2="449.9"/><text x="53.3" y="461.9" text-anchor="end">0.4</text>
<line class="tk" x1="62.3" y1="402.0" x2="72.8" y2="402.0"/><text x="53.3" y="414.0" text-anchor="end">0.5</text>
<line class="tk" x1="74.6" y1="314.75" x2="74.6" y2="325.25"/><line class="tk" x1="74.6" y1="641.5" x2="74.6" y2="652.0"/>
<line class="tk" x1="123.0" y1="314.75" x2="123.0" y2="325.25"/><line class="tk" x1="123.0" y1="641.5" x2="123.0" y2="652.0"/>
<line class="tk" x1="171.4" y1="314.75" x2="171.4" y2="325.25"/><line class="tk" x1="171.4" y1="641.5" x2="171.4" y2="652.0"/>
<line class="tk" x1="219.9" y1="314.75" x2="219.9" y2="325.25"/><line class="tk" x1="219.9" y1="641.5" x2="219.9" y2="652.0"/>
<line class="tk" x1="268.3" y1="314.75" x2="268.3" y2="325.25"/><line class="tk" x1="268.3" y1="641.5" x2="268.3" y2="652.0"/>
<line class="tk" x1="316.7" y1="314.75" x2="316.7" y2="325.25"/><line class="tk" x1="316.7" y1="641.5" x2="316.7" y2="652.0"/>
<line class="tk" x1="365.1" y1="314.75" x2="365.1" y2="325.25"/><line class="tk" x1="365.1" y1="641.5" x2="365.1" y2="652.0"/>
<line class="tk" x1="413.5" y1="314.75" x2="413.5" y2="325.25"/><line class="tk" x1="413.5" y1="641.5" x2="413.5" y2="652.0"/>
<line class="tk" x1="462.0" y1="314.75" x2="462.0" y2="325.25"/><line class="tk" x1="462.0" y1="641.5" x2="462.0" y2="652.0"/>
<line class="tk" x1="510.4" y1="314.75" x2="510.4" y2="325.25"/><line class="tk" x1="510.4" y1="641.5" x2="510.4" y2="652.0"/>
<line class="tk" x1="558.8" y1="314.75" x2="558.8" y2="325.25"/><line class="tk" x1="558.8" y1="641.5" x2="558.8" y2="652.0"/>
<line class="tk" x1="607.2" y1="314.75" x2="607.2" y2="325.25"/><line class="tk" x1="607.2" y1="641.5" x2="607.2" y2="652.0"/>
<line class="tk" x1="655.6" y1="314.75" x2="655.6" y2="325.25"/><line class="tk" x1="655.6" y1="641.5" x2="655.6" y2="652.0"/>
<line class="tk" x1="704.1" y1="314.75" x2="704.1" y2="325.25"/><line class="tk" x1="704.1" y1="641.5" x2="704.1" y2="652.0"/>
<line class="tk" x1="752.5" y1="314.75" x2="752.5" y2="325.25"/><line class="tk" x1="752.5" y1="641.5" x2="752.5" y2="652.0"/>
<line class="tk" x1="800.9" y1="314.75" x2="800.9" y2="325.25"/><line class="tk" x1="800.9" y1="641.5" x2="800.9" y2="652.0"/>
<line class="tk" x1="849.3" y1="314.75" x2="849.3" y2="325.25"/><line class="tk" x1="849.3" y1="641.5" x2="849.3" y2="652.0"/>
<line class="tk" x1="897.7" y1="314.75" x2="897.7" y2="325.25"/><line class="tk" x1="897.7" y1="641.5" x2="897.7" y2="652.0"/>
<line class="tk" x1="946.2" y1="314.75" x2="946.2" y2="325.25"/><line class="tk" x1="946.2" y1="641.5" x2="946.2" y2="652.0"/>
<line class="tk" x1="994.6" y1="314.75" x2="994.6" y2="325.25"/><line class="tk" x1="994.6" y1="641.5" x2="994.6" y2="652.0"/>
<line class="tk" x1="1043.0" y1="314.75" x2="1043.0" y2="325.25"/><line class="tk" x1="1043.0" y1="641.5" x2="1043.0" y2="652.0"/>
<line class="tk" x1="1091.4" y1="314.75" x2="1091.4" y2="325.25"/><line class="tk" x1="1091.4" y1="641.5" x2="1091.4" y2="652.0"/>
<line class="tk" x1="1139.8" y1="314.75" x2="1139.8" y2="325.25"/><line class="tk" x1="1139.8" y1="641.5" x2="1139.8" y2="652.0"/>
<line class="tk" x1="1188.3" y1="314.75" x2="1188.3" y2="325.25"/><line class="tk" x1="1188.3" y1="641.5" x2="1188.3" y2="652.0"/>
<line class="tk" x1="1236.7" y1="314.75" x2="1236.7" y2="325.25"/><line class="tk" x1="1236.7" y1="641.5" x2="1236.7" y2="652.0"/>
<line class="tk" x1="1285.1" y1="314.75" x2="1285.1" y2="325.25"/><line class="tk" x1="1285.1" y1="641.5" x2="1285.1" y2="652.0"/>
<line class="tk" x1="1333.5" y1="314.75" x2="1333.5" y2="325.25"/><line class="tk" x1="1333.5" y1="641.5" x2="1333.5" y2="652.0"/>
<text transform="translate(81.6,748.5) rotate(-50)" text-anchor="middle">2013-06-30</text>
<text transform="translate(130.1,748.5) rotate(-50)" text-anchor="middle">2013-07-25</text>
<text transform="translate(178.5,748.5) rotate(-50)" text-anchor="middle">2013-08-19</text>
<text transform="translate(226.9,748.5) rotate(-50)" text-anchor="middle">2013-09-13</text>
<text transform="translate(275.3,748.5) rotate(-50)" text-anchor="middle">2013-10-08</text>
<text transform="translate(323.8,748.5) rotate(-50)" text-anchor="middle">2014-04-02</text>
<text transform="translate(372.2,748.5) rotate(-50)" text-anchor="middle">2014-04-27</text>
<text transform="translate(420.6,748.5) rotate(-50)" text-anchor="middle">2014-05-22</text>
<text transform="translate(469.0,748.5) rotate(-50)" text-anchor="middle">2014-06-16</text>
<text transform="translate(517.4,748.5) rotate(-50)" text-anchor="middle">2014-07-11</text>
<text transform="translate(565.9,748.5) rotate(-50)" text-anchor="middle">2014-08-05</text>
<text transform="translate(614.3,748.5) rotate(-50)" text-anchor="middle">2014-08-30</text>
<text transform="translate(662.7,748.5) rotate(-50)" text-anchor="middle">2014-09-24</text>
<text transform="translate(711.1,748.5) rotate(-50)" text-anchor="middle">2014-10-19</text>
<text transform="translate(759.5,748.5) rotate(-50)" text-anchor="middle">2015-04-13</text>
<text transform="translate(808.0,748.5) rotate(-50)" text-anchor="middle">2015-05-08</text>
<text transform="translate(856.4,748.5) rotate(-50)" text-anchor="middle">2015-06-02</text>
<text transform="translate(904.8,748.5) rotate(-50)" text-anchor="middle">2015-06-27</text>
<text transform="translate(953.2,748.5) rotate(-50)" text-anchor="middle">2015-07-22</text>
<text transform="translate(1001.6,748.5) rotate(-50)" text-anchor="middle">2015-08-16</text>
<text transform="translate(1050.0,748.5) rotate(-50)" text-anchor="middle">2015-09-10</text>
<text transform="translate(1098.5,748.5) rotate(-50)" text-anchor="middle">2015-10-05</text>
<text transform="translate(1146.9,748.5) rotate(-50)" text-anchor="middle">2015-10-30</text>
<text transform="translate(1195.3,748.5) rotate(-50)" text-anchor="middle">2016-04-24</text>
<text transform="translate(1243.7,748.5) rotate(-50)" text-anchor="middle">2016-05-19</text>
<text transform="translate(1292.1,748.5) rotate(-50)" text-anchor="middle">2016-06-13</text>
<text transform="translate(1340.6,748.5) rotate(-50)" text-anchor="middle">2016-07-08</text>
<line x1="90.4" y1="26.6" x2="129.6" y2="26.6" stroke="#d6006e" stroke-width="7.6"/><text x="128.3" y="36.6">Reg1</text>
<line x1="229.0" y1="26.6" x2="268.2" y2="26.6" stroke="#6a00ff" stroke-width="7.6"/><text x="266.9" y="36.6">Reg2</text>
<line x1="367.6" y1="26.6" x2="406.8" y2="26.6" stroke="#3558c8" stroke-width="7.6"/><text x="405.5" y="36.6">Reg3</text>
<line x1="506.2" y1="26.6" x2="545.4" y2="26.6" stroke="#a87020" stroke-width="7.6"/><text x="544.1" y="36.6">Reg4</text>
<line x1="644.8" y1="26.6" x2="684.0" y2="26.6" stroke="#80f050" stroke-width="7.6"/><text x="682.7" y="36.6">Reg5</text>
<line x1="783.4" y1="26.6" x2="822.6" y2="26.6" stroke="#3a6e28" stroke-width="7.6"/><text x="821.3" y="36.6">Reg6</text>
<line x1="922.0" y1="26.6" x2="961.2" y2="26.6" stroke="#a8b060" stroke-width="7.6"/><text x="959.9" y="36.6">Reg7</text>
<line x1="1060.6" y1="26.6" x2="1099.8" y2="26.6" stroke="#58a8e8" stroke-width="7.6"/><text x="1098.5" y="36.6">Reg8</text>
<line x1="1199.2" y1="26.6" x2="1238.4" y2="26.6" stroke="#000000" stroke-width="7.6"/><text x="1237.1" y="36.6">Reg9</text>
</svg></body></html>
